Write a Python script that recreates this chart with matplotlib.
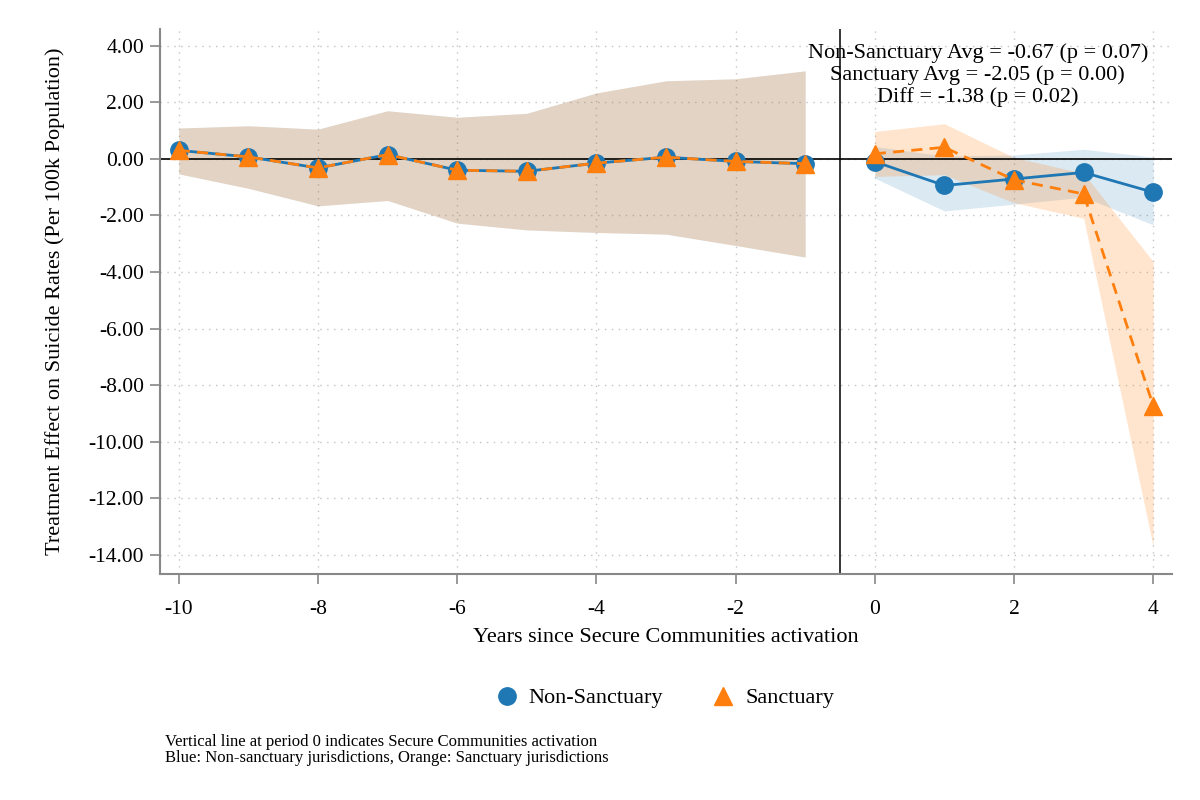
import numpy as np
import matplotlib
matplotlib.use("Agg")
import matplotlib.pyplot as plt

plt.rcParams['font.family'] = ['Liberation Serif', 'DejaVu Serif']
plt.rcParams['axes.unicode_minus'] = False

# event time
pre_years = [-10, -9, -8, -7, -6, -5, -4, -3, -2, -1]
post_years = [0, 1, 2, 3, 4]

# Non-Sanctuary (blue)
ns_pre = [0.30, 0.07, -0.32, 0.15, -0.40, -0.44, -0.15, 0.06, -0.09, -0.17]
ns_pre_lo = [-0.53, -1.04, -1.66, -1.47, -2.27, -2.51, -2.60, -2.66, -3.06, -3.47]
ns_pre_hi = [1.09, 1.17, 1.05, 1.70, 1.47, 1.61, 2.33, 2.76, 2.83, 3.11]
ns_post = [-0.10, -0.94, -0.71, -0.48, -1.18]
ns_post_lo = [-0.68, -1.84, -1.60, -1.35, -2.33]
ns_post_hi = [0.44, 0.10, 0.14, 0.34, 0.06]

# Sanctuary (orange)
s_pre = [0.30, 0.07, -0.32, 0.15, -0.40, -0.44, -0.15, 0.06, -0.09, -0.17]
s_pre_lo = [-0.53, -1.04, -1.66, -1.47, -2.27, -2.51, -2.60, -2.66, -3.06, -3.47]
s_pre_hi = [1.09, 1.17, 1.05, 1.70, 1.47, 1.61, 2.33, 2.76, 2.83, 3.11]
s_post = [0.18, 0.41, -0.74, -1.24, -8.72]
s_post_lo = [-0.62, -0.56, -1.55, -2.10, -13.70]
s_post_hi = [0.97, 1.24, 0.05, -0.51, -3.63]

stats_text = ("Non-Sanctuary Avg = -0.67 (p = 0.07)\n"
              "Sanctuary Avg = -2.05 (p = 0.00)\n"
              "Diff = -1.38 (p = 0.02)")

blue = '#1f77b4'
orange = '#ff7f0e'

fig = plt.figure(figsize=(12, 8), dpi=100)
ax = fig.add_axes([160/1200, 1 - 574/800, 1012/1200, 545/800])

# confidence bands
for yrs, lo, hi in [(pre_years, ns_pre_lo, ns_pre_hi), (post_years, ns_post_lo, ns_post_hi)]:
    ax.fill_between(yrs, lo, hi, color=blue, alpha=0.16, linewidth=0)
for yrs, lo, hi in [(pre_years, s_pre_lo, s_pre_hi), (post_years, s_post_lo, s_post_hi)]:
    ax.fill_between(yrs, lo, hi, color=orange, alpha=0.2, linewidth=0)

ax.axhline(0, color='black', lw=1.2, zorder=2)
ax.axvline(-0.5, color='black', lw=1.1, zorder=2)

for yrs, vals in [(pre_years, ns_pre), (post_years, ns_post)]:
    ax.plot(yrs, vals, color=blue, lw=2.0, marker='o', markersize=12.5, zorder=3)
for yrs, vals in [(pre_years, s_pre), (post_years, s_post)]:
    ax.plot(yrs, vals, color=orange, lw=2.0, ls=(0, (4, 2.6)), marker='^',
            markersize=13, zorder=4)

ax.set_xlim(-10.27, 4.27)
ax.set_ylim(-14.67, 4.59)
ax.set_xticks(np.arange(-10, 5, 2))
ax.set_yticks(np.arange(-14, 5, 2))
ax.set_yticklabels([f"{v:.2f}" for v in np.arange(-14, 5, 2)])
ax.tick_params(labelsize=15.5, color='#888888', length=7.5, width=1.2)
ax.tick_params(axis='x', pad=11)
ax.tick_params(axis='y', pad=4)
ax.grid(True, color='#c4c4c4', ls=(0, (1, 4)), lw=1)
ax.set_axisbelow(True)
for side in ['top', 'right']:
    ax.spines[side].set_visible(False)
for side in ['left', 'bottom']:
    ax.spines[side].set_color('#888888')
    ax.spines[side].set_linewidth(1.5)

ax.set_xlabel('Years since Secure Communities activation', fontsize=16)
ax.xaxis.set_label_coords(0.5, -(638 - 574) / 545, transform=ax.transAxes)
ax.xaxis.label.set_va('center')
ax.set_ylabel('Treatment Effect on Suicide Rates (Per 100k Population)', fontsize=16)
ax.yaxis.set_label_coords(-(160 - 55) / 1012, 0.5)
ax.yaxis.label.set_va('center')

fig.text(1148/1200, 1 - 43/800, stats_text, ha='right', va='top',
         multialignment='center', fontsize=16, linespacing=1.15)

# legend
h1, = ax.plot([], [], color=blue, marker='o', ls='none', markersize=12.5)
h2, = ax.plot([], [], color=orange, marker='^', ls='none', markersize=13)
fig.legend([h1, h2], ['Non-Sanctuary', 'Sanctuary'], loc='center',
           bbox_to_anchor=(665/1200, 1 - 698/800), ncol=2, frameon=False,
           fontsize=16, handlelength=1.0, handletextpad=0.5, columnspacing=2.2)

fig.text(165/1200, 1 - 750/800,
         "Vertical line at period 0 indicates Secure Communities activation\n"
         "Blue: Non-sanctuary jurisdictions, Orange: Sanctuary jurisdictions",
         ha='left', va='center', fontsize=12, linespacing=1.08)

fig.savefig('out.png', dpi=100, facecolor='white')
